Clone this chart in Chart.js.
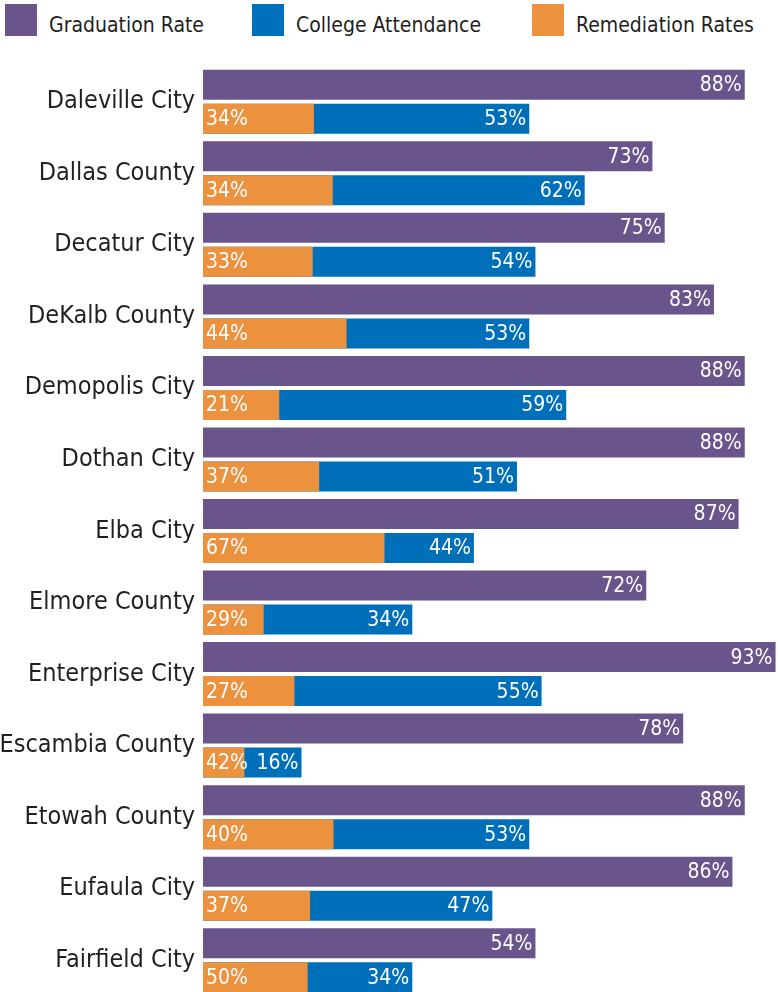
<!DOCTYPE html>
<html>
<head>
<meta charset="utf-8">
<title>Graduation, College Attendance and Remediation Rates</title>
<script src="https://cdn.jsdelivr.net/npm/chart.js@4.4.1/dist/chart.umd.min.js"></script>
<style>
    html, body {
        margin: 0;
        padding: 0;
        background: #ffffff;
        overflow: hidden;
    }
    #page {
        position: relative;
        width: 778px;
        height: 992px;
        overflow: hidden;
    }
    .legend-item {
        position: absolute;
        top: 4px;
        height: 32px;
        white-space: nowrap;
        font-family: "DejaVu Sans Condensed", "Liberation Sans Narrow", sans-serif;
        font-size: 21px;
        color: #231f20;
    }
    .legend-box {
        display: inline-block;
        width: 32px;
        height: 32px;
        vertical-align: top;
    }
    .legend-text {
        display: inline-block;
        margin-left: 12px;
        line-height: 32px;
        padding-top: 5px;
        vertical-align: top;
    }
    #chartWrap {
        position: absolute;
        left: 0;
        top: 0;
        width: 778px;
        height: 1000px;
    }
</style>
</head>
<body>
<div id="page">
    <div id="legend"></div>
    <div id="chartWrap"><canvas id="RatesBarChart"></canvas></div>
</div>
<script>
var districts = [
    "Daleville City",
    "Dallas County",
    "Decatur City",
    "DeKalb County",
    "Demopolis City",
    "Dothan City",
    "Elba City",
    "Elmore County",
    "Enterprise City",
    "Escambia County",
    "Etowah County",
    "Eufaula City",
    "Fairfield City",
];
var graduationRate = [88, 73, 75, 83, 88, 88, 87, 72, 93, 78, 88, 86, 54];
var collegeAttendance = [53, 62, 54, 53, 59, 51, 44, 34, 55, 16, 53, 47, 34];
var remediationRates = [34, 34, 33, 44, 21, 37, 67, 29, 27, 42, 40, 37, 50];

var seriesNames = ["Graduation Rate", "College Attendance", "Remediation Rates"];
var seriesColors = ["#6a548c", "#006fba", "#ec913e"];

var labelFont = '"DejaVu Sans Condensed", "Liberation Sans Narrow", sans-serif';

document.addEventListener("DOMContentLoaded", function () {
    // legend is plain html so the boxes can sit where the original puts them
    var legendLeft = [5, 252, 532];
    var legend = document.getElementById("legend");
    for (var i = 0; i < seriesNames.length; i++) {
        var item = document.createElement("div");
        item.className = "legend-item";
        item.style.left = legendLeft[i] + "px";
        item.innerHTML =
            '<span class="legend-box" style="background-color:' +
            seriesColors[i] +
            '"></span><span class="legend-text">' +
            seriesNames[i] +
            "</span>";
        legend.appendChild(item);
    }

    // remediation is a share of the students who went to college,
    // so its bar is drawn as that part of the attendance bar
    var remediationShare = [];
    for (var j = 0; j < remediationRates.length; j++) {
        remediationShare.push((remediationRates[j] * collegeAttendance[j]) / 100);
    }

    var barLabels = {
        id: "barLabels",
        afterDatasetsDraw: function (chart) {
            var ctx = chart.ctx;
            ctx.save();
            ctx.font = "21px " + labelFont;
            ctx.fillStyle = "#ffffff";
            ctx.textBaseline = "middle";
            chart.data.datasets.forEach(function (ds, dsIndex) {
                var meta = chart.getDatasetMeta(dsIndex);
                meta.data.forEach(function (bar, k) {
                    var txt = ds.shownValues[k] + "%";
                    if (ds.labelAtStart) {
                        ctx.textAlign = "left";
                        ctx.fillText(txt, bar.base + 3, bar.y + 1);
                    } else {
                        ctx.textAlign = "right";
                        ctx.fillText(txt, bar.x - 3, bar.y + 1);
                    }
                });
            });
            ctx.restore();
        },
    };

    var canvas = document.getElementById("RatesBarChart").getContext("2d");
    var ratesChart = new Chart(canvas, {
        type: "bar",
        data: {
            labels: districts,
            datasets: [
                {
                    label: seriesNames[0],
                    data: graduationRate,
                    shownValues: graduationRate,
                    backgroundColor: seriesColors[0],
                    stack: "grad",
                    order: 0,
                },
                {
                    label: seriesNames[1],
                    data: collegeAttendance,
                    shownValues: collegeAttendance,
                    backgroundColor: seriesColors[1],
                    stack: "college",
                    order: 1,
                },
                {
                    label: seriesNames[2],
                    data: remediationShare,
                    shownValues: remediationRates,
                    labelAtStart: true,
                    backgroundColor: seriesColors[2],
                    stack: "college",
                    order: 0,
                },
            ],
        },
        options: {
            indexAxis: "y",
            responsive: true,
            maintainAspectRatio: false,
            animation: false,
            categoryPercentage: 0.951,
            barPercentage: 0.882,
            layout: {
                padding: {
                    top: 66,
                    bottom: 4,
                    left: 0,
                    right: 0,
                },
            },
            plugins: {
                legend: {
                    display: false,
                },
                tooltip: {
                    enabled: false,
                },
            },
            scales: {
                x: {
                    display: false,
                    stacked: false,
                    min: 0,
                    max: 93.4,
                },
                y: {
                    grid: {
                        display: false,
                        drawTicks: false,
                    },
                    border: {
                        display: false,
                    },
                    ticks: {
                        padding: 8,
                        color: "#231f20",
                        font: {
                            family: labelFont,
                            size: 25,
                        },
                    },
                    afterFit: function (axis) {
                        axis.width = 203;
                        axis.paddingTop = 0;
                        axis.paddingBottom = 0;
                    },
                },
            },
        },
        plugins: [barLabels],
    });
});
</script>
</body>
</html>
